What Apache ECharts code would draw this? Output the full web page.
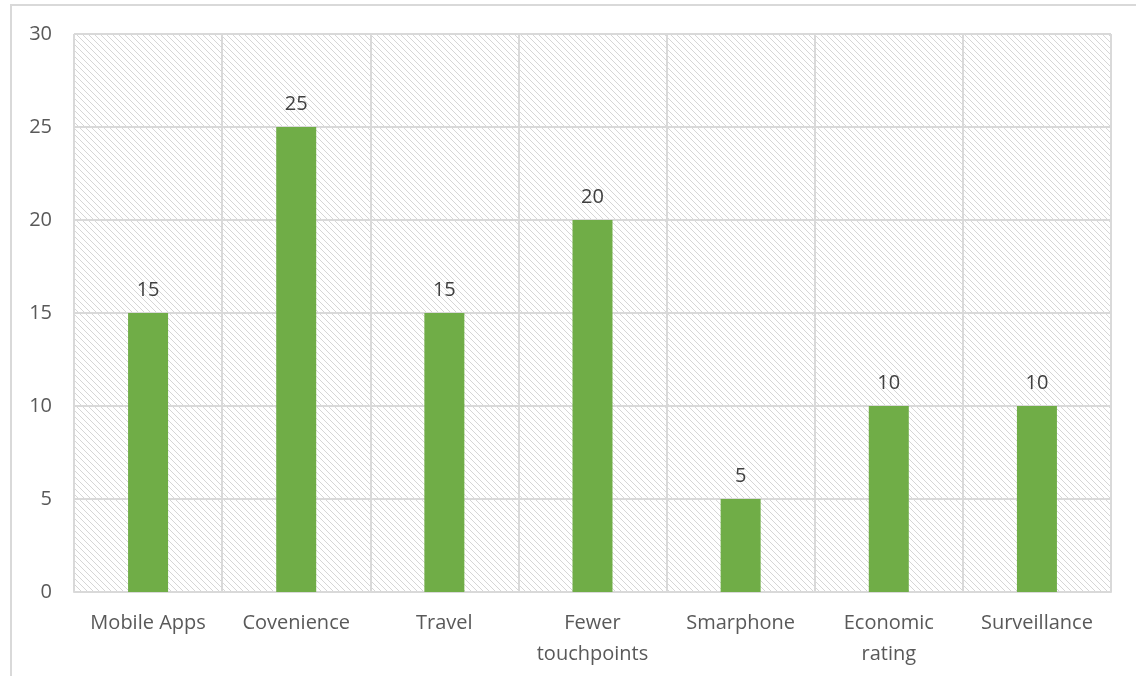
<!DOCTYPE html>
<html><head><meta charset="utf-8">
<script src="https://cdn.jsdelivr.net/npm/echarts@6/dist/echarts.min.js"></script>
<style>html,body{margin:0;padding:0;background:#fff}#c{width:1136px;height:676px}</style>
</head><body><div id="c"></div>
<script>
const categories = ['Mobile Apps','Covenience','Travel','Fewer\ntouchpoints','Smarphone','Economic\nrating','Surveillance'];
const values = [15,25,15,20,5,10,10];
const yTicks = [0,5,10,15,20,25,30];

const pc = document.createElement('canvas');
pc.width = 6; pc.height = 6;
const g = pc.getContext('2d');
g.strokeStyle = '#d6d6d6';
g.lineWidth = 1;
for (let k = -6; k <= 6; k += 6) {
  g.beginPath(); g.moveTo(k, 0); g.lineTo(k + 6, 6); g.stroke();
}

const chart = echarts.init(document.getElementById('c'));
const font = "'Open Sans', sans-serif";
chart.setOption({
  animation: false,
  graphic: [{type:'rect', shape:{x:11,y:5,width:1140,height:690}, style:{fill:'none', stroke:'#d9d9d9', lineWidth:2}, silent:true}],
  grid: {left:74, right:25, top:34, bottom:84, show:true, borderWidth:0,
    backgroundColor:{image:pc, repeat:'repeat'}},
  xAxis: {type:'category', data:categories,
    axisLine:{show:true, lineStyle:{color:'#d9d9d9', width:2}},
    axisTick:{show:false},
    splitLine:{show:true, lineStyle:{color:'#d9d9d9', width:2}},
    axisLabel:{color:'#595959', fontSize:20, fontFamily:font, margin:16, lineHeight:31, interval:0}},
  yAxis: {type:'value', min:yTicks[0], max:yTicks[yTicks.length-1], interval:5,
    axisLine:{show:false}, axisTick:{show:false},
    splitLine:{lineStyle:{color:'#d9d9d9', width:2}},
    axisLabel:{color:'#595959', fontSize:20, fontFamily:font, margin:22}},
  series: [{type:'bar', data:values, barWidth:40,
    itemStyle:{color:'#70AD47'},
    label:{show:true, position:'top', distance:13, color:'#404040', fontSize:20, fontFamily:font}}]
});
</script></body></html>
